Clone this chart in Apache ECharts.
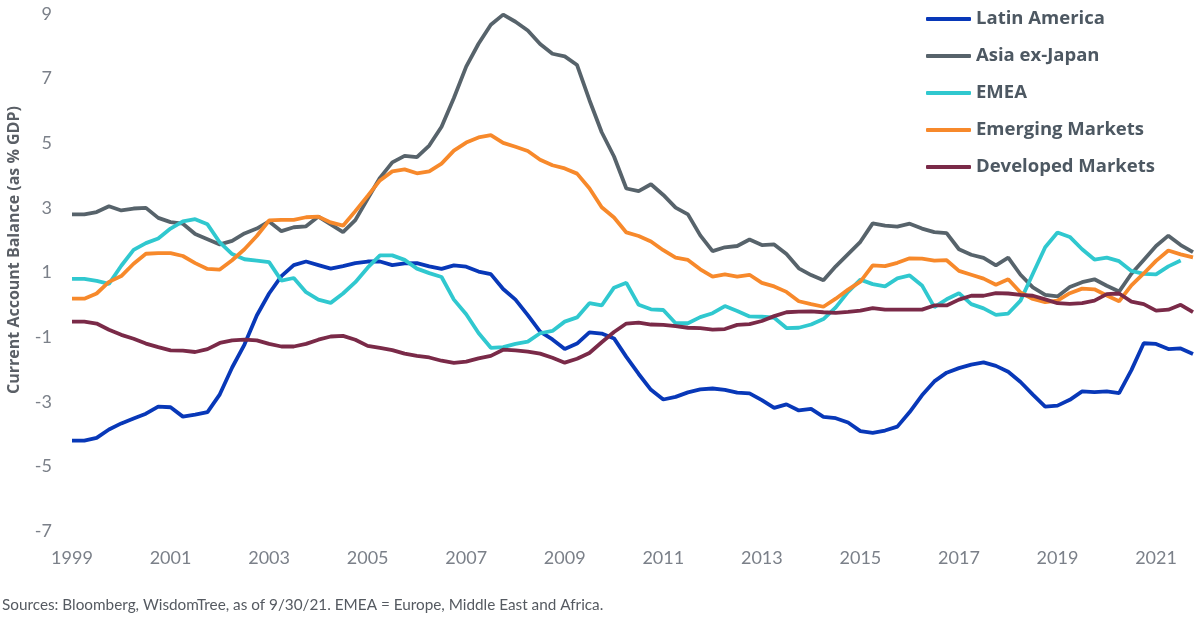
<!DOCTYPE html>
<html>
<head>
<meta charset="utf-8">
<title>Current Account Balance</title>
<script src="https://cdn.jsdelivr.net/npm/echarts@6/dist/echarts.min.js"></script>
<style>
  html, body { margin: 0; padding: 0; background: #fff; }
  #main { width: 1200px; height: 622px; }
</style>
</head>
<body>
<div id="main"></div>
<script>
// quarterly current account balance, % of GDP, 1999Q1 - 2021Q4
var quarters = [];
for (var y = 1999; y <= 2021; y++) {
  for (var q = 1; q <= 4; q++) quarters.push(y + 'Q' + q);
}

var latinAmerica = [
  -4.2, -4.2, -4.12, -3.86, -3.67, -3.52, -3.37, -3.15,
  -3.17, -3.46, -3.4, -3.32, -2.77, -1.94, -1.23, -0.33,
  0.35, 0.89, 1.23, 1.34, 1.23, 1.12, 1.2, 1.29,
  1.34, 1.34, 1.23, 1.28, 1.29, 1.19, 1.11, 1.22,
  1.18, 1.03, 0.95, 0.49, 0.16, -0.32, -0.83, -1.07,
  -1.37, -1.2, -0.85, -0.89, -1.04, -1.61, -2.14, -2.63,
  -2.93, -2.85, -2.71, -2.62, -2.59, -2.63, -2.72, -2.74,
  -2.95, -3.19, -3.08, -3.27, -3.22, -3.47, -3.51, -3.64,
  -3.91, -3.96, -3.89, -3.77, -3.32, -2.8, -2.37, -2.1,
  -1.96, -1.85, -1.78, -1.89, -2.07, -2.39, -2.78, -3.15,
  -3.12, -2.94, -2.68, -2.7, -2.68, -2.73, -2.02, -1.19,
  -1.21, -1.37, -1.35, -1.52
];

var asiaExJapan = [
  2.8, 2.8, 2.87, 3.05, 2.92, 2.98, 3.0, 2.69,
  2.56, 2.51, 2.19, 2.03, 1.87, 1.98, 2.21, 2.36,
  2.58, 2.28, 2.4, 2.43, 2.73, 2.49, 2.25, 2.62,
  3.28, 3.93, 4.41, 4.61, 4.57, 4.93, 5.51, 6.4,
  7.37, 8.08, 8.67, 8.98, 8.76, 8.49, 8.07, 7.77,
  7.69, 7.42, 6.34, 5.34, 4.59, 3.6, 3.52, 3.73,
  3.4, 3.01, 2.8, 2.15, 1.66, 1.78, 1.82, 2.02,
  1.85, 1.87, 1.57, 1.13, 0.92, 0.76, 1.19, 1.57,
  1.95, 2.52, 2.45, 2.42, 2.51, 2.36, 2.25, 2.22,
  1.72, 1.55, 1.45, 1.22, 1.46, 0.93, 0.54, 0.31,
  0.26, 0.55, 0.7, 0.79, 0.59, 0.41, 0.96, 1.39,
  1.82, 2.14, 1.85, 1.63
];

var emea = [
  0.8, 0.8, 0.74, 0.65, 1.21, 1.7, 1.91, 2.05,
  2.36, 2.58, 2.65, 2.49, 1.93, 1.57, 1.41, 1.37,
  1.32, 0.75, 0.83, 0.39, 0.16, 0.06, 0.35, 0.7,
  1.15, 1.53, 1.53, 1.39, 1.12, 0.98, 0.86, 0.16,
  -0.29, -0.87, -1.33, -1.31, -1.21, -1.14, -0.88, -0.81,
  -0.52, -0.39, 0.05, -0.02, 0.53, 0.68, 0.0, -0.14,
  -0.16, -0.57, -0.57, -0.38, -0.26, -0.04, -0.19, -0.36,
  -0.37, -0.4, -0.72, -0.71, -0.61, -0.44, -0.08, 0.4,
  0.78, 0.64, 0.57, 0.82, 0.91, 0.6, -0.07, 0.17,
  0.36, 0.02, -0.11, -0.31, -0.27, 0.13, 0.96, 1.78,
  2.24, 2.1, 1.72, 1.4, 1.46, 1.35, 1.05, 0.96,
  0.94, 1.19, 1.37, null
];

var emergingMarkets = [
  0.19, 0.19, 0.35, 0.71, 0.89, 1.27, 1.58, 1.6,
  1.6, 1.51, 1.29, 1.11, 1.09, 1.38, 1.72, 2.13,
  2.61, 2.63, 2.63, 2.71, 2.73, 2.55, 2.45, 2.9,
  3.37, 3.85, 4.13, 4.19, 4.07, 4.13, 4.37, 4.77,
  5.02, 5.18, 5.25, 5.01, 4.89, 4.76, 4.49, 4.32,
  4.22, 4.06, 3.61, 3.02, 2.7, 2.24, 2.13, 1.96,
  1.69, 1.46, 1.39, 1.1, 0.87, 0.94, 0.87, 0.93,
  0.68, 0.57, 0.4, 0.11, 0.02, -0.06, 0.19, 0.47,
  0.72, 1.22, 1.2, 1.3, 1.44, 1.43, 1.37, 1.38,
  1.05, 0.93, 0.81, 0.62, 0.79, 0.38, 0.18, 0.08,
  0.13, 0.36, 0.5, 0.48, 0.29, 0.11, 0.6, 0.97,
  1.36, 1.68, 1.56, 1.47
];

var developedMarkets = [
  -0.52, -0.52, -0.58, -0.77, -0.93, -1.05, -1.2, -1.31,
  -1.41, -1.42, -1.46, -1.37, -1.18, -1.1, -1.08, -1.1,
  -1.21, -1.29, -1.29, -1.21, -1.08, -0.98, -0.96, -1.08,
  -1.27, -1.33, -1.4, -1.51, -1.58, -1.63, -1.73, -1.8,
  -1.76, -1.66, -1.58, -1.39, -1.41, -1.45, -1.51, -1.64,
  -1.79, -1.67, -1.49, -1.16, -0.84, -0.58, -0.55, -0.61,
  -0.62, -0.66, -0.71, -0.72, -0.77, -0.75, -0.62, -0.6,
  -0.5, -0.35, -0.23, -0.21, -0.2, -0.23, -0.25, -0.22,
  -0.18, -0.1, -0.15, -0.15, -0.15, -0.15, -0.02, -0.02,
  0.16, 0.28, 0.28, 0.36, 0.35, 0.31, 0.28, 0.17,
  0.05, 0.03, 0.05, 0.13, 0.33, 0.35, 0.1, 0.02,
  -0.18, -0.15, 0.0, -0.23
];

var seriesNames = ['Latin America', 'Asia ex-Japan', 'EMEA', 'Emerging Markets', 'Developed Markets'];
var seriesData = [latinAmerica, asiaExJapan, emea, emergingMarkets, developedMarkets];
var colors = ['#0838b8', '#57636b', '#30c8cf', '#f7892b', '#7a2a48'];

var myChart = echarts.init(document.getElementById('main'), null, { renderer: 'canvas' });

var option = {
  animation: false,
  color: colors,
  textStyle: { fontFamily: 'Lato' },
  grid: { left: 72, right: 7, top: 14, bottom: 91 },
  legend: {
    orient: 'vertical',
    left: 921,
    top: 4,
    icon: 'roundRect',
    itemWidth: 45,
    itemHeight: 4,
    itemGap: 17,
    data: seriesNames,
    textStyle: {
      fontFamily: 'Open Sans',
      fontWeight: 'bold',
      fontSize: 18.5,
      lineHeight: 20,
      color: '#4d5862'
    }
  },
  xAxis: {
    type: 'category',
    data: quarters,
    boundaryGap: false,
    axisLine: { show: false },
    axisTick: { show: false },
    splitLine: { show: false },
    axisLabel: {
      interval: function (index) { return index % 8 === 0; },
      formatter: function (v) { return v.slice(0, 4); },
      margin: 18,
      fontSize: 18,
      color: '#7b8089',
      fontFamily: 'Lato'
    }
  },
  yAxis: {
    type: 'value',
    min: -7,
    max: 9,
    interval: 2,
    axisLine: { show: false },
    axisTick: { show: false },
    splitLine: { show: false },
    axisLabel: {
      margin: 20,
      fontSize: 18,
      color: '#7b8089',
      fontFamily: 'Lato'
    }
  },
  graphic: [
    {
      type: 'text',
      x: 14,
      y: 250,
      rotation: Math.PI / 2,
      style: {
        text: 'Current Account Balance (as % GDP)',
        align: 'center',
        verticalAlign: 'middle',
        fontFamily: 'Open Sans',
        fontWeight: 'bold',
        fontSize: 16,
        fill: '#5a5f66'
      }
    },
    {
      type: 'text',
      left: 2,
      top: 598,
      style: {
        text: 'Sources: Bloomberg, WisdomTree, as of 9/30/21. EMEA = Europe, Middle East and Africa.',
        fontFamily: 'Lato',
        fontSize: 15.3,
        fill: '#555a61'
      }
    }
  ],
  series: seriesNames.map(function (name, k) {
    return {
      name: name,
      type: 'line',
      data: seriesData[k],
      showSymbol: false,
      symbol: 'none',
      lineStyle: { width: 3.8, color: colors[k] },
      itemStyle: { color: colors[k] },
      emphasis: { disabled: true }
    };
  })
};

option && myChart.setOption(option);
</script>
</body>
</html>
